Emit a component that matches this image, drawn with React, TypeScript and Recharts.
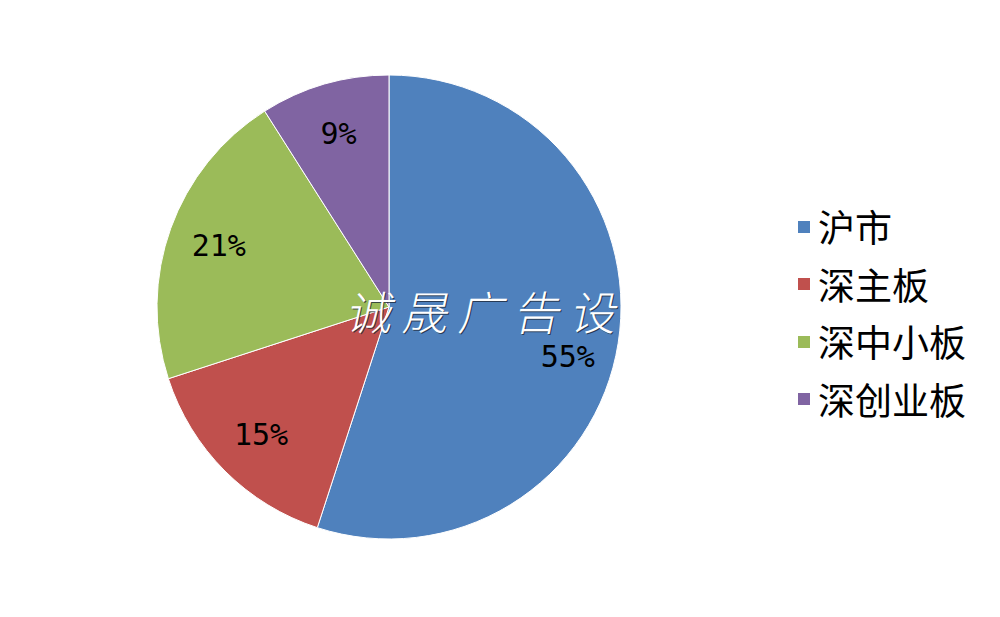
import React from "react";
import { PieChart, Pie, Cell, Legend } from "recharts";

const categories = ["沪市", "深主板", "深中小板", "深创业板"];
const values = [55, 15, 21, 9];
const colors = ["#4F81BD", "#C0504D", "#9BBB59", "#8064A2"];
const watermark = "诚晟广告设计";

const data = categories.map((name, i) => ({ name, value: values[i] }));

const RAD = Math.PI / 180;

// watermark band (baseline and glyph height), used to keep labels clear of it
const WM_BASELINE = 330;
const WM_SIZE = 46;

const renderLabel = (props: any) => {
  const { cx, cy, midAngle, outerRadius, value } = props;
  const r = outerRadius * 0.78;
  const x = cx + r * Math.cos(-midAngle * RAD);
  let y = cy + r * Math.sin(-midAngle * RAD);
  const bandTop = WM_BASELINE - WM_SIZE;
  const bandBottom = WM_BASELINE + 6;
  if (y + 12 > bandTop && y - 12 < bandBottom) {
    y = bandBottom + 20;
  }
  return (
    <text
      x={x}
      y={y}
      textAnchor="middle"
      dominantBaseline="central"
      fill="#000"
      style={{ fontFamily: "'DejaVu Sans Mono', monospace", fontSize: 30 }}
    >
      {`${value}%`}
    </text>
  );
};

const renderLegend = () => (
  <div style={{ fontFamily: "'Noto Sans CJK SC', sans-serif", fontSize: 37, color: "#000", lineHeight: 1 }}>
    {data.map((d, i) => (
      <div key={d.name} style={{ display: "flex", alignItems: "center", height: 57.5 }}>
        <span
          style={{
            display: "inline-block",
            width: 12,
            height: 12,
            background: colors[i],
            marginRight: 8,
          }}
        />
        <span>{d.name}</span>
      </div>
    ))}
  </div>
);

export default function App() {
  const wm = {
    x: 345,
    y: WM_BASELINE,
    fontFamily: "'Noto Sans CJK SC', sans-serif",
    fontWeight: 300,
    fontSize: WM_SIZE,
    letterSpacing: 10,
    transform: "translate(70.2 0) skewX(-12)",
  };
  return (
    <div style={{ position: "absolute", left: 0, top: 0, width: 1000, height: 617, background: "#fff" }}>
      <PieChart width={1000} height={617} margin={{ top: 0, right: 0, bottom: 0, left: 0 }}>
        <Pie
          data={data}
          dataKey="value"
          nameKey="name"
          cx={389}
          cy={307}
          outerRadius={232}
          startAngle={90}
          endAngle={-270}
          stroke="#ffffff"
          strokeWidth={1}
          label={renderLabel}
          labelLine={false}
          isAnimationActive={false}
        >
          {data.map((d, i) => (
            <Cell key={d.name} fill={colors[i]} />
          ))}
        </Pie>
        <Legend
          layout="vertical"
          content={renderLegend}
          wrapperStyle={{ position: "absolute", left: 798, top: 198, width: 200 }}
        />
      </PieChart>
      <svg
        width={1000}
        height={617}
        style={{ position: "absolute", left: 0, top: 0, pointerEvents: "none" }}
      >
        <defs>
          <clipPath id="wmclip">
            <rect x={0} y={0} width={626} height={617} />
          </clipPath>
        </defs>
        <g clipPath="url(#wmclip)">
          <g transform="translate(1 1)">
            <text {...wm} fill="#1e2838" fillOpacity={0.8}>
              {watermark}
            </text>
          </g>
          <text {...wm} fill="#ffffff">
            {watermark}
          </text>
        </g>
      </svg>
    </div>
  );
}
